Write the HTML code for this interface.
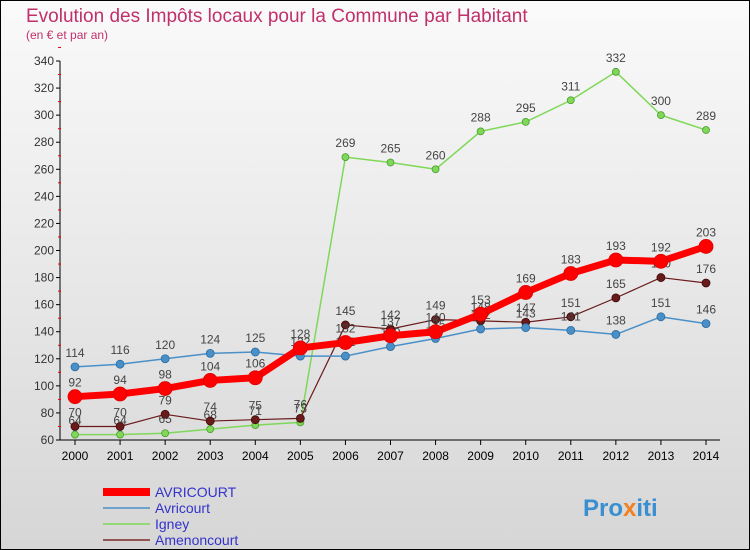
<!DOCTYPE html>
<html><head><meta charset="utf-8"><style>
body{margin:0;}
svg{display:block;font-family:"Liberation Sans",sans-serif;}
</style></head><body>
<svg width="750" height="550" viewBox="0 0 750 550">
<defs><linearGradient id="bg" x1="0" y1="0" x2="0" y2="1"><stop offset="0" stop-color="#fafafa"/><stop offset="1" stop-color="#d6d6d6"/></linearGradient></defs>
<rect x="0.5" y="0.5" width="749" height="549" fill="url(#bg)" stroke="#000"/>
<text x="26" y="22" font-size="19" fill="#c0306a">Evolution des Impôts locaux pour la Commune par Habitant</text>
<text x="26" y="39" font-size="12" fill="#c0306a">(en € et par an)</text>
<g id="axes"></g><g id="plot"></g>
<g>
<line x1="103" y1="492" x2="150" y2="492" stroke="#f00" stroke-width="8"/>
<text x="155" y="497" font-size="14" fill="#33c">AVRICOURT</text>
<line x1="103" y1="508" x2="150" y2="508" stroke="#4a90c8" stroke-width="1.5"/>
<text x="155" y="513" font-size="14" fill="#33c">Avricourt</text>
<line x1="103" y1="524" x2="150" y2="524" stroke="#7fd858" stroke-width="1.5"/>
<text x="155" y="529" font-size="14" fill="#33c">Igney</text>
<line x1="103" y1="540" x2="150" y2="540" stroke="#7a2a2a" stroke-width="1.5"/>
<text x="155" y="545" font-size="14" fill="#33c">Amenoncourt</text>
</g>
<text x="583" y="516" font-size="24" font-weight="bold" fill="#3a8fd0">Pro<tspan fill="#f08020">x</tspan>iti</text>
</svg>
<script>
const years=[2000,2001,2002,2003,2004,2005,2006,2007,2008,2009,2010,2011,2012,2013,2014];
const yTicks=[60,80,100,120,140,160,180,200,220,240,260,280,300,320,340];
const totalVals=[92,94,98,104,106,128,132,137,140,153,169,183,193,192,203];
const avricourtVals=[114,116,120,124,125,122,122,129,135,142,143,141,138,151,146];
const igneyVals=[64,64,65,68,71,73,269,265,260,288,295,311,332,300,289];
const amenonVals=[70,70,79,74,75,76,145,142,149,148,147,151,165,180,176];
const NS="http://www.w3.org/2000/svg";
const X=i=>75+i*(706-75)/14;
const Y=v=>440-(v-60)*(440-61)/280;
function mk(t,a,p){const e=document.createElementNS(NS,t);for(const k in a)e.setAttribute(k,a[k]);p.appendChild(e);return e;}
const ax=document.getElementById('axes'),pl=document.getElementById('plot');
const yl=mk('line',{x1:60,y1:61,x2:60,y2:440,stroke:'#000'},ax);


const xl=mk('line',{x1:60,y1:440,x2:720,y2:440,stroke:'#000'},ax);


yTicks.forEach(v=>{
 mk('line',{x1:56,y1:Y(v),x2:60,y2:Y(v),stroke:'#000'},ax);
 mk('line',{x1:58,y1:Y(v+10),x2:61,y2:Y(v+10),stroke:'#e00'},ax);
 const t=mk('text',{x:54,y:Y(v)+4,'font-size':12,fill:'#333','text-anchor':'end'},ax);t.textContent=v;
 
 
});
years.forEach((yr,i)=>{
 mk('line',{x1:X(i),y1:440,x2:X(i),y2:445,stroke:'#000'},ax);
 const t=mk('text',{x:X(i),y:460,'font-size':12,fill:'#000','text-anchor':'middle'},ax);t.textContent=yr;
 
 
});
function series(vals,color,w,r,name,stroke2){
 const g=mk('g',{},pl);
 
 
 mk('polyline',{points:vals.map((v,i)=>X(i)+','+Y(v)).join(' '),fill:'none',stroke:color,'stroke-width':w,'stroke-linejoin':'round'},g);
 vals.forEach((v,i)=>{
  const c=mk('circle',{cx:X(i),cy:Y(v),r:r,fill:color,stroke:stroke2,'stroke-width':0.8},g);
  
  
  const t=mk('text',{x:X(i),y:Y(v)-10,'font-size':12,fill:'#444','text-anchor':'middle'},g);t.textContent=v;
  
  
 });
}
series(igneyVals,'#7fd858',1.5,3.5,'series-igney','#4a9a30');
series(amenonVals,'#6a1a1a',1.2,4,'series-amenoncourt','#3a0a0a');
series(avricourtVals,'#4a90c8',1.5,4,'series-avricourt','#2a6aa0');
series(totalVals,'#f00',7,7,'series-avricourt-total','#d00');
</script>
</body></html>
